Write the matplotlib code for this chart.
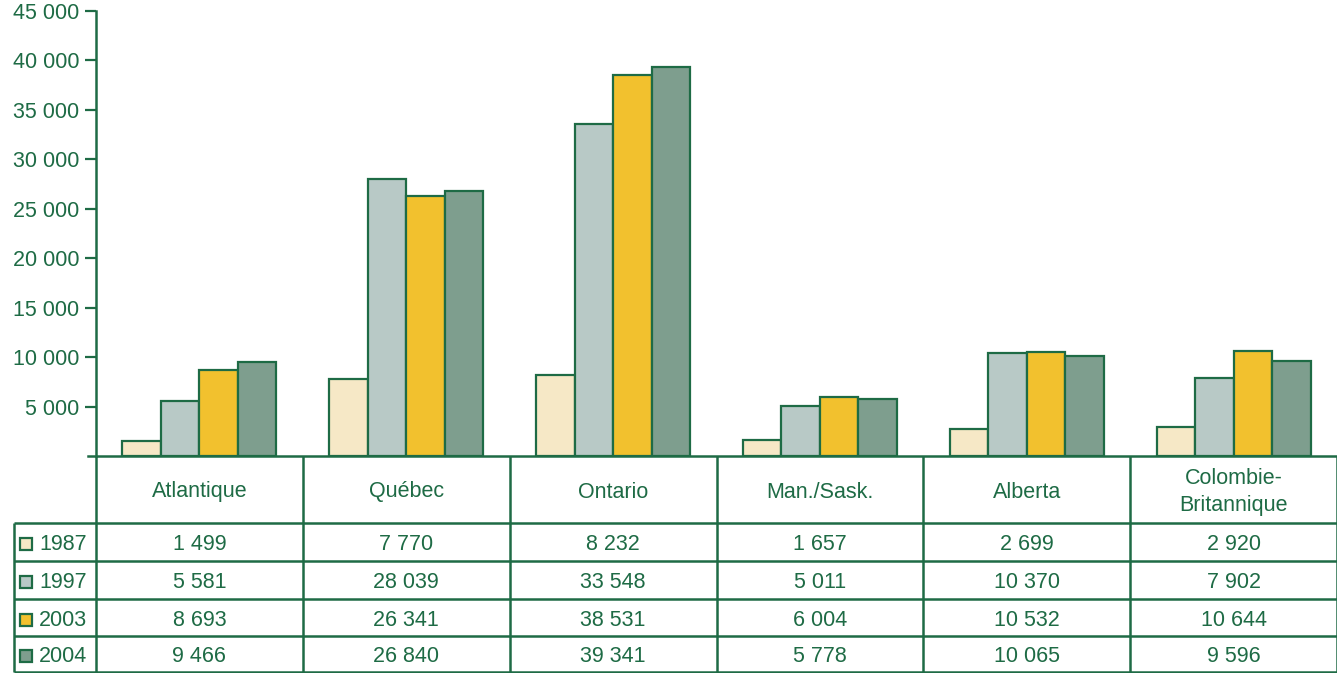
import matplotlib
matplotlib.use("Agg")
import matplotlib.pyplot as plt
import matplotlib.transforms as mtransforms
from matplotlib.patches import Rectangle
import numpy as np

plt.rcParams['font.family'] = ['Liberation Sans', 'DejaVu Sans']

categories = ["Atlantique", "Québec", "Ontario", "Man./Sask.", "Alberta", "Colombie-\nBritannique"]
years = ["1987", "1997", "2003", "2004"]
v1987 = [1499, 7770, 8232, 1657, 2699, 2920]
v1997 = [5581, 28039, 33548, 5011, 10370, 7902]
v2003 = [8693, 26341, 38531, 6004, 10532, 10644]
v2004 = [9466, 26840, 39341, 5778, 10065, 9596]
yticks = [5000, 10000, 15000, 20000, 25000, 30000, 35000, 40000, 45000]

series = [v1987, v1997, v2003, v2004]
colors = ["#F6E8C6", "#B8C9C6", "#F2C12E", "#7E9E8E"]
green = "#1E6B45"
fs = 15.5

W, H = 1337, 673
fig = plt.figure(figsize=(W / 100, H / 100), dpi=100)
ax = fig.add_axes([96 / W, (H - 456) / H, (W - 96) / W, (456 - 11) / H])
ax_t = fig.add_axes([0, 0, 1, 1], zorder=-1)
ax_t.set_xlim(0, W)
ax_t.set_ylim(H, 0)
ax_t.axis("off")

n = len(categories)
bw = 0.186
x = np.arange(n) + 0.5
for k, (vals, c) in enumerate(zip(series, colors)):
    ax.bar(x + (k - 1.5) * bw, vals, width=bw, color=c, edgecolor=green,
           linewidth=1.6, zorder=3)

ax.set_xlim(0, n)
ax.set_ylim(0, 45000)
ax.set_yticks(yticks)
ax.set_yticklabels([f"{v:,}".replace(",", " ") for v in yticks], color=green, fontsize=fs)
ax.tick_params(axis="y", direction="out", length=8, width=1.6, color=green, pad=4)
ax.tick_params(axis="x", bottom=False, labelbottom=False)
for s in ["top", "right"]:
    ax.spines[s].set_visible(False)
ax.spines["left"].set_color(green)
ax.spines["left"].set_linewidth(1.8)
ax.spines["bottom"].set_visible(False)
ax.axhline(0, xmin=-8 / (W - 96), xmax=1, color=green, lw=1.8, clip_on=False, zorder=4)

# table drawn below the axes; x follows the axes data coordinates
tr = mtransforms.blended_transform_factory(ax.transData, ax_t.transData)
lw = 1.8
row_lines = [523, 561, 599, 636, 672]
for i in range(n + 1):
    ax_t.plot([i, i], [456, 672], color=green, lw=lw, transform=tr, clip_on=False,
              solid_capstyle="butt")
for yy in row_lines:
    ax_t.plot([14, W], [yy, yy], color=green, lw=lw, clip_on=False, solid_capstyle="butt")
ax_t.plot([14, 14], [523, 672], color=green, lw=lw, clip_on=False, solid_capstyle="butt")

for i, cat in enumerate(categories):
    ax_t.text(i + 0.5, 492, cat, transform=tr, ha="center", va="center",
              color=green, fontsize=fs, linespacing=1.4)

for r, (yr, vals, c) in enumerate(zip(years, series, colors)):
    yc = (row_lines[r] + row_lines[r + 1]) / 2 + 3
    ax_t.add_patch(Rectangle((20, yc - 7), 12, 12, facecolor=c, edgecolor=green, lw=1.6))
    ax_t.text(39, yc, yr, ha="left", va="center", color=green, fontsize=fs)
    for i, v in enumerate(vals):
        ax_t.text(i + 0.5, yc, f"{v:,}".replace(",", " "), transform=tr,
                  ha="center", va="center", color=green, fontsize=fs)

fig.savefig("out.png", dpi=100)
